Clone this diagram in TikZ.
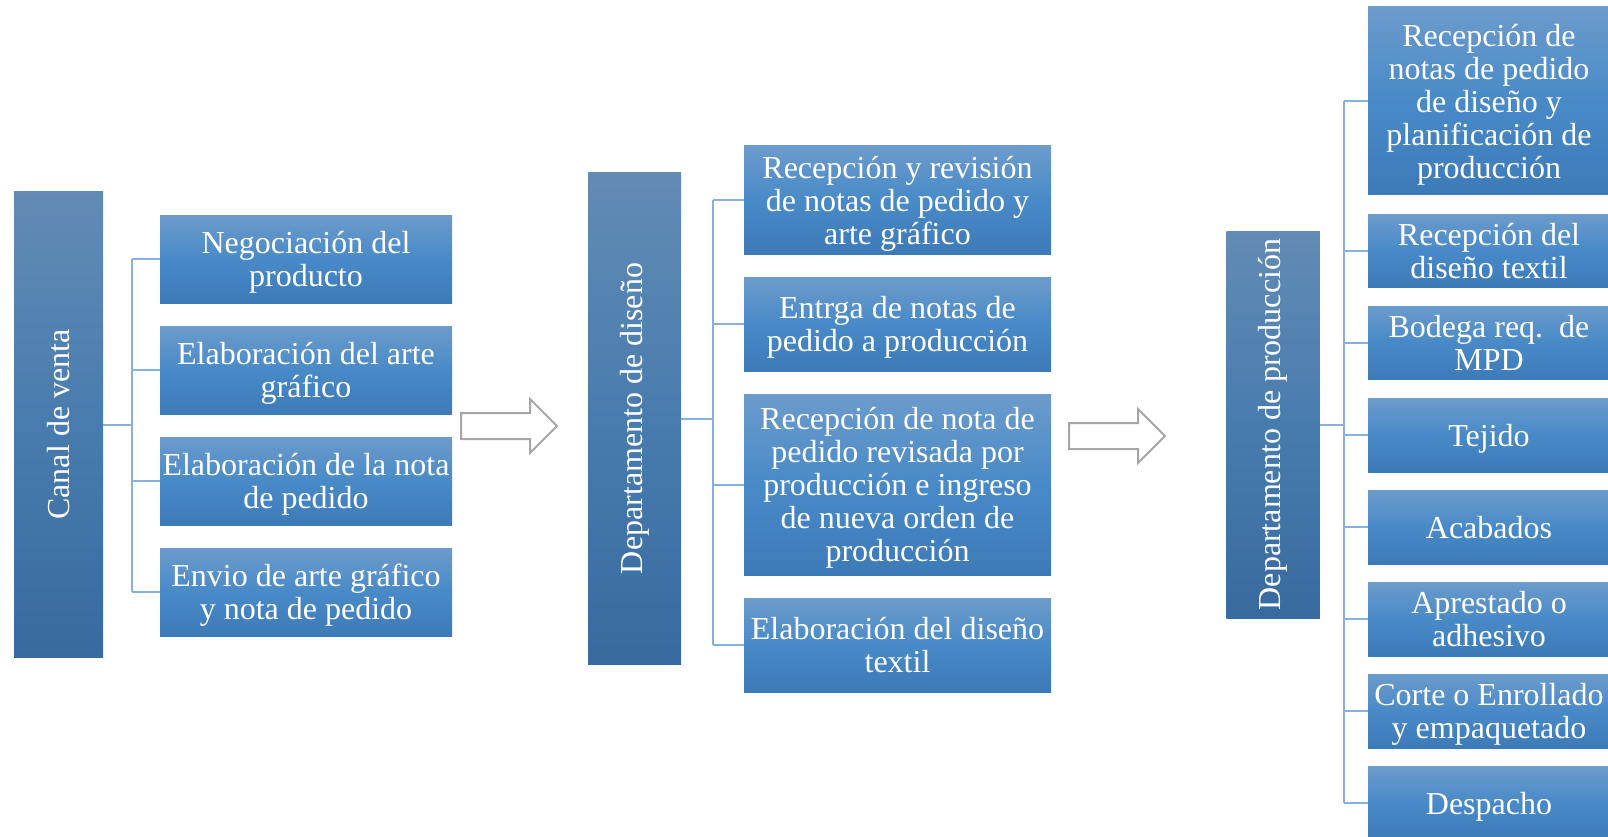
\documentclass[tikz,border=0pt]{standalone}
\usepackage{fontspec}
\setmainfont{Liberation Serif}
\usetikzlibrary{calc}
\definecolor{boxtop}{RGB}{108,155,204}
\definecolor{boxmid}{RGB}{72,138,199}
\definecolor{boxbot}{RGB}{61,122,184}
\definecolor{depttop}{RGB}{98,139,181}
\definecolor{deptmid}{RGB}{72,124,174}
\definecolor{deptbot}{RGB}{56,106,159}
\definecolor{linkblue}{RGB}{135,175,224}
\definecolor{arrowgray}{RGB}{166,166,166}

\begin{document}
\begin{tikzpicture}[x=1pt, y=-1pt,
  boxtext/.style={text=white, align=center, font=\fontsize{32}{33}\selectfont},
  stepbox/.style={boxtext, text depth=0pt, inner sep=0, top color=boxtop, bottom color=boxbot, middle color=boxmid},
  deptbox/.style={inner sep=0, top color=depttop, bottom color=deptbot, middle color=deptmid},
  link/.style={linkblue, line width=2},
  hollowarrow/.style={arrowgray, line width=2, fill=white, line join=miter}]
  \useasboundingbox (0,0) rectangle (1608,837);

  % Canal de venta
  \node[deptbox, minimum width=89, minimum height=465] (canal) at (58.5,424.5) {};
  \node[boxtext, rotate=90] (canaltxt) at (canal) {Canal de venta};
  \node[stepbox, minimum width=292, minimum height=88] (cv1) at (306,259) {Negociación del\\producto};
  \node[stepbox, minimum width=292, minimum height=88] (cv2) at (306,370) {Elaboración del arte\\gráfico};
  \node[stepbox, minimum width=292, minimum height=88] (cv3) at (306,481) {Elaboración de la nota\\de pedido};
  \node[stepbox, minimum width=292, minimum height=88] (cv4) at (306,592) {Envio de arte gráfico\\y nota de pedido};

  \coordinate (ta) at (132,424.5);
  \draw[link] (canal.east) -- (ta);
  \draw[link] (ta |- cv1.west) -- (ta |- cv4.west);
  \foreach \n in {cv1,cv2,cv3,cv4}
    \draw[link] (ta |- \n.west) -- (\n.west);

  % Departamento de diseno
  \node[deptbox, minimum width=93, minimum height=491] (dis) at (634.5,418.5) {};
  \node[boxtext, rotate=90] (distxt) at (dis) {Departamento de diseño};
  \node[stepbox, minimum width=307, minimum height=108] (ds1) at (897.5,200) {Recepción y revisión\\de notas de pedido y\\arte gráfico};
  \node[stepbox, minimum width=307, minimum height=94] (ds2) at (897.5,324) {Entrga de notas de\\pedido a producción};
  \node[stepbox, minimum width=307, minimum height=181] (ds3) at (897.5,484.5) {Recepción de nota de\\pedido revisada por\\producción e ingreso\\de nueva orden de\\producción};
  \node[stepbox, minimum width=307, minimum height=94] (ds4) at (897.5,645) {Elaboración del diseño\\textil};

  \coordinate (tb) at (713,418.5);
  \draw[link] (dis.east) -- (tb);
  \draw[link] (tb |- ds1.west) -- (tb |- ds4.west);
  \foreach \n in {ds1,ds2,ds3,ds4}
    \draw[link] (tb |- \n.west) -- (\n.west);

  % Departamento de produccion
  \node[deptbox, minimum width=93.5, minimum height=387] (prod) at (1273,424.5) {};
  \node[boxtext, rotate=90] (prodtxt) at (prod) {Departamento de producción};
  \node[stepbox, minimum width=242, minimum height=188] (pr1) at (1489,101) {Recepción de\\notas de pedido\\de diseño y\\planificación de\\producción};
  \node[stepbox, minimum width=242, minimum height=73] (pr2) at (1489,250.5) {Recepción del\\diseño textil};
  \node[stepbox, minimum width=242, minimum height=73] (pr3) at (1489,342.5) {Bodega req.\ \ de\\MPD};
  \node[stepbox, minimum width=242, minimum height=74] (pr4) at (1489,435) {Tejido};
  \node[stepbox, minimum width=242, minimum height=74] (pr5) at (1489,527) {Acabados};
  \node[stepbox, minimum width=242, minimum height=74] (pr6) at (1489,619) {Aprestado o\\adhesivo};
  \node[stepbox, minimum width=242, minimum height=74] (pr7) at (1489,711) {Corte o Enrollado\\y empaquetado};
  \node[stepbox, minimum width=242, minimum height=74] (pr8) at (1489,803) {Despacho};

  \coordinate (tc) at (1344,424.5);
  \draw[link] (prod.east) -- (tc);
  \draw[link] (tc |- pr1.west) -- (tc |- pr8.west);
  \foreach \n in {pr1,pr2,pr3,pr4,pr5,pr6,pr7,pr8}
    \draw[link] (tc |- \n.west) -- (\n.west);

  % Flechas
  \draw[hollowarrow] (461,413) -- (530,413) -- (530,399) -- (557,426) -- (530,453) -- (530,439) -- (461,439) -- cycle;
  \draw[hollowarrow] (1069,423) -- (1138,423) -- (1138,409) -- (1165,436) -- (1138,463) -- (1138,449) -- (1069,449) -- cycle;
\end{tikzpicture}
\end{document}
